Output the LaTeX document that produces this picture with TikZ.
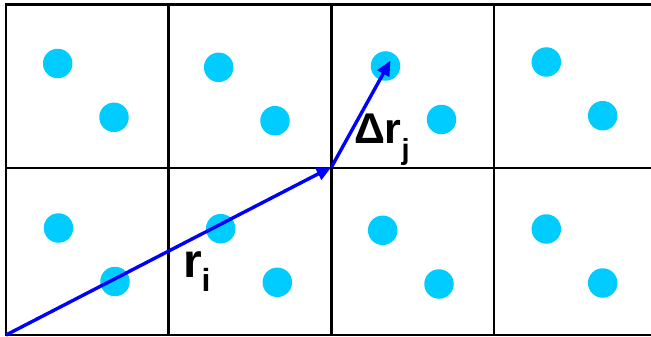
\documentclass[tikz,border=0pt]{standalone}
\usepackage{fontspec}
\setmainfont{Liberation Sans}
\usetikzlibrary{arrows.meta}
\definecolor{dotcyan}{RGB}{0,204,255}
\definecolor{vecblue}{RGB}{0,0,255}
\tikzset{
  gridline/.style={line width=2.5pt, black},
  particle/.style={circle, fill=dotcyan, draw=none, minimum size=29.5pt, inner sep=0pt},
  vec/.style={line width=3.4pt, vecblue, -{Triangle[length=15pt,width=13pt]}},
  lbl/.style={anchor=base west, inner sep=0pt, outer sep=0pt, font=\bfseries}
}
\begin{document}
\begin{tikzpicture}[x=1pt,y=-1pt]
\useasboundingbox (0,0) rectangle (651,337);
% grid
\draw[gridline] (651,4.5) -- (6,4.5) -- (6,335) -- (651,335);
\draw[gridline] (6,168) -- (651,168);
\draw[gridline] (168.3,4.5) -- (168.3,335);
\draw[gridline] (331.5,4.5) -- (331.5,335);
\draw[gridline] (494,4.5) -- (494,335);
% particles, top row
\node[particle] (p1) at (57.7,63.5) {};
\node[particle] (p2) at (114,117.3) {};
\node[particle] (p3) at (218.7,67.3) {};
\node[particle] (p4) at (275,120.7) {};
\node[particle] (p5) at (385.5,66) {};
\node[particle] (p6) at (441.5,119.5) {};
\node[particle] (p7) at (546.3,62) {};
\node[particle] (p8) at (602.7,115.7) {};
% particles, bottom row
\node[particle] (q1) at (58.5,228) {};
\node[particle] (q2) at (115,281.5) {};
\node[particle] (q3) at (220.7,228.7) {};
\node[particle] (q4) at (277.3,282.3) {};
\node[particle] (q5) at (382.7,230.3) {};
\node[particle] (q6) at (439,284) {};
\node[particle] (q7) at (546.3,229) {};
\node[particle] (q8) at (602.7,283) {};
% vectors
\coordinate (O) at (6,335);
\coordinate (A) at (331.5,167);
\coordinate (B) at (390.5,60.5);
\draw[vec] (O) -- (A);
\draw[vec] (A) -- (B);
% labels
\node[lbl] (ri) at (183,277) {\fontsize{48}{48}\selectfont r\raisebox{-14.7pt}{\fontsize{32}{32}\selectfont i}};
\node[lbl] (drj) at (354,143.5) {\fontsize{43}{43}\selectfont Δr\raisebox{-16pt}{\fontsize{29}{29}\selectfont j}};
\end{tikzpicture}
\end{document}
